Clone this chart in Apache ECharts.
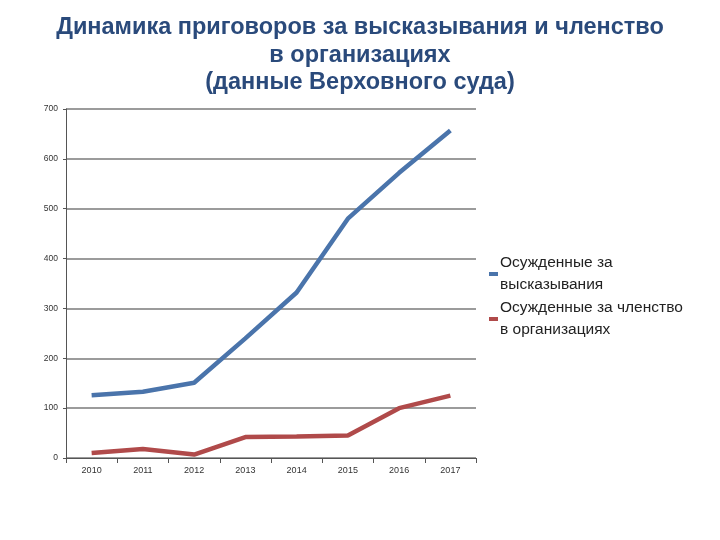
<!DOCTYPE html>
<html>
<head>
<meta charset="utf-8">
<script src="https://cdn.jsdelivr.net/npm/echarts@6/dist/echarts.min.js"></script>
<style>html,body{margin:0;padding:0;background:#fff}#c{width:720px;height:540px}</style>
</head>
<body>
<div id="c"></div>
<script>
var categories = ['2010','2011','2012','2013','2014','2015','2016','2017'];
var speechValues = [126, 133, 151, 240, 332, 480, 572, 657];
var memberValues = [10, 18, 7, 42, 43, 45, 100, 125];
var seriesNames = ['Осужденные за\nвысказывания', 'Осужденные за членство\nв организациях'];
var yTicks = [0, 100, 200, 300, 400, 500, 600, 700];

var chart = echarts.init(document.getElementById('c'));
chart.setOption({
  animation: false,
  title: {
    text: 'Динамика приговоров за высказывания и членство\nв организациях\n(данные Верховного суда)',
    left: 'center',
    top: 9,
    textStyle: {
      fontFamily: 'Liberation Sans, Arial, sans-serif',
      fontSize: 23.5,
      fontWeight: 'bold',
      color: '#2a4a7b',
      lineHeight: 27.5
    }
  },
  legend: {
    orient: 'vertical',
    left: 484,
    top: 247,
    itemWidth: 9,
    itemHeight: 4,
    itemGap: 1,
    icon: 'rect',
    data: seriesNames,
    textStyle: {
      fontFamily: 'Liberation Sans, Arial, sans-serif',
      fontSize: 15.5,
      lineHeight: 22,
      color: '#222',
      padding: [0, 0, 0, -3]
    }
  },
  grid: { left: 66, right: 244, top: 109, bottom: 82, containLabel: false },
  xAxis: {
    type: 'category',
    data: categories,
    boundaryGap: true,
    axisLine: { lineStyle: { color: '#555', width: 1 } },
    axisTick: { show: true, length: 5, lineStyle: { color: '#555' } },
    axisLabel: { fontFamily: 'Liberation Sans, Arial, sans-serif', fontSize: 9, color: '#333', margin: 8 },
    splitLine: { show: false }
  },
  yAxis: {
    type: 'value',
    min: yTicks[0],
    max: yTicks[yTicks.length - 1],
    interval: 100,
    axisLine: { show: true, lineStyle: { color: '#555', width: 1 } },
    axisTick: { show: true, length: 3, lineStyle: { color: '#555' } },
    axisLabel: { fontFamily: 'Liberation Sans, Arial, sans-serif', fontSize: 8.5, color: '#333', margin: 8 },
    splitLine: { show: true, lineStyle: { color: '#7a7a7a', width: 1.5 } }
  },
  series: [
    {
      name: seriesNames[0],
      type: 'line',
      data: speechValues,
      symbol: 'none',
      lineStyle: { color: '#4a74ab', width: 4.5 },
      itemStyle: { color: '#4a74ab' }
    },
    {
      name: seriesNames[1],
      type: 'line',
      data: memberValues,
      symbol: 'none',
      lineStyle: { color: '#b04a4a', width: 4.5 },
      itemStyle: { color: '#b04a4a' }
    }
  ]
});
</script>
</body>
</html>
